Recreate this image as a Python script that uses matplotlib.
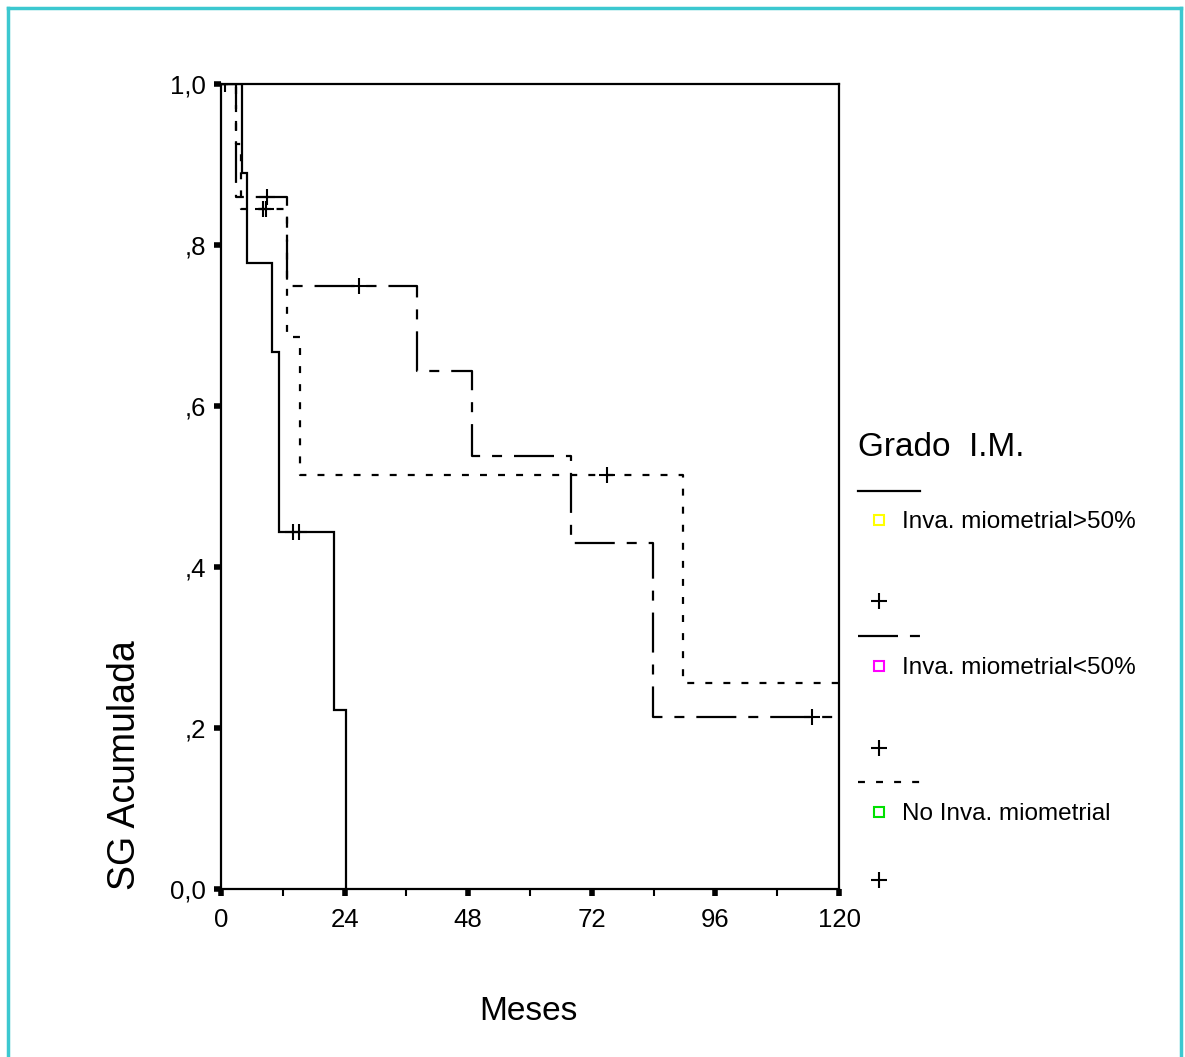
import matplotlib
matplotlib.use("Agg")
import matplotlib.pyplot as plt
from matplotlib.lines import Line2D

plt.rcParams['font.family'] = ['Liberation Sans Narrow', 'Liberation Sans', 'DejaVu Sans']
plt.rcParams['lines.scale_dashes'] = False

# ---------------- data ----------------
# Inva. miometrial>50%  (solid)
t_gt50 = [0, 4.0, 5.0, 9.9, 11.2, 21.9, 24.2]
s_gt50 = [1.0, 0.889, 0.778, 0.667, 0.444, 0.222, 0.0]
end_gt50 = 24.2
cens_t_gt50 = [13.9, 15.1]
cens_s_gt50 = [0.444, 0.444]

# Inva. miometrial<50%  (dash-dot)
t_lt50 = [0, 3.0, 12.9, 38.1, 48.7, 67.9, 83.9]
s_lt50 = [1.0, 0.860, 0.749, 0.643, 0.538, 0.430, 0.214]
end_lt50 = 120
cens_t_lt50 = [8.9, 26.8, 114.7]
cens_s_lt50 = [0.860, 0.749, 0.214]

# No Inva. miometrial  (dotted)
t_no = [0, 3.0, 3.9, 12.9, 15.3, 89.7]
s_no = [1.0, 0.925, 0.845, 0.686, 0.514, 0.256]
end_no = 120
cens_t_no = [0.8, 8.1, 8.7, 74.9]
cens_s_no = [1.0, 0.845, 0.845, 0.514]

x_ticks = [0, 24, 48, 72, 96, 120]
x_minor = [12, 36, 60, 84, 108]
y_ticks = [0.0, 0.2, 0.4, 0.6, 0.8, 1.0]
y_ticklabels = ['0,0', ',2', ',4', ',6', ',8', '1,0']

labels = ['Inva. miometrial>50%', 'Inva. miometrial<50%', 'No Inva. miometrial']
legend_title = 'Grado  I.M.'
box_colors = ['#FFFF00', '#FF00FF', '#00E000']

# ---------------- styles ----------------
DASHDOT = (0, (28.8, 8.6, 7.2, 8.6))
DOTTED = (0, (5.0, 8.0))
styles = ['-', DASHDOT, DOTTED]

W, H = 1185, 1057
fig = plt.figure(figsize=(W / 100, H / 100), dpi=100)
fig.patch.set_facecolor('white')

L, R, T, B = 221, 839, 84, 889
ax = fig.add_axes([L / W, 1 - B / H, (R - L) / W, (B - T) / H])


def km_xy(t, s, end):
    xs, ys = [], []
    for i in range(len(t)):
        if i > 0:
            xs.append(t[i]); ys.append(s[i - 1])
        xs.append(t[i]); ys.append(s[i])
    xs.append(end); ys.append(s[-1])
    return xs, ys


series = [
    (t_gt50, s_gt50, end_gt50, cens_t_gt50, cens_s_gt50),
    (t_lt50, s_lt50, end_lt50, cens_t_lt50, cens_s_lt50),
    (t_no, s_no, end_no, cens_t_no, cens_s_no),
]
for (t, s, end, ct, cs), ls in zip(series, styles):
    xs, ys = km_xy(t, s, end)
    ax.plot(xs, ys, color='black', lw=1.6, ls=ls, solid_capstyle='butt',
            dash_capstyle='butt', solid_joinstyle='miter')
    ax.plot(ct, cs, ls='none', marker='+', color='black', ms=12, mew=1.5)

ax.set_xlim(0, 120)
ax.set_ylim(0, 1.0)
for sp in ax.spines.values():
    sp.set_linewidth(1.6)
ax.set_xticks(x_ticks)
ax.set_xticklabels([str(v) for v in x_ticks])
ax.set_xticks(x_minor, minor=True)
ax.set_yticks(y_ticks)
ax.set_yticklabels(y_ticklabels)
ax.tick_params(axis='x', which='major', direction='out', length=5, width=4,
               pad=9, labelsize=18.5)
ax.tick_params(axis='x', which='minor', direction='out', length=5, width=1.5)
ax.tick_params(axis='y', which='major', direction='out', length=5, width=4,
               pad=6, labelsize=18.5)

ax.set_xlabel('Meses', fontsize=24)
ax.xaxis.set_label_coords((528 - L) / (R - L), (B - 1012) / (B - T))
ax.xaxis.label.set_va('center')
ax.set_ylabel('SG Acumulada', fontsize=27)
ax.yaxis.set_label_coords((125 - L) / (R - L), (B - 765) / (B - T))
ax.yaxis.label.set_va('center')
ax.yaxis.label.set_ha('center')

# ---------------- overlay (legend + border) in pixel coords ----------------
ov = fig.add_axes([0, 0, 1, 1], zorder=5)
ov.set_xlim(0, W)
ov.set_ylim(H, 0)
ov.axis('off')
ov.patch.set_alpha(0)

bc = '#3CC8D0'
ov.add_line(Line2D([8, 8], [8, H], color=bc, lw=2.5))
ov.add_line(Line2D([8, 1181], [8, 8], color=bc, lw=2.5))
ov.add_line(Line2D([1181, 1181], [8, H], color=bc, lw=2.5))

ov.text(858, 447, legend_title, fontsize=24, ha='left', va='center')
sample_y = [491, 636, 782]
box_y = [520, 666, 812]
plus_y = [601, 748, 880]
for i in range(3):
    ov.add_line(Line2D([858, 920], [sample_y[i], sample_y[i]], color='black',
                       lw=1.6, ls=styles[i], dash_capstyle='butt'))
    ov.plot([879], [box_y[i]], marker='s', ms=7, mfc='white',
            mec=box_colors[i], mew=1.5, ls='none')
    ov.text(902, box_y[i] + 2, labels[i], fontsize=17.5, ha='left', va='center')
    ov.plot([879], [plus_y[i]], marker='+', ms=12, mew=1.5, color='black',
            ls='none')

fig.savefig('out.png', dpi=100, facecolor='white')
